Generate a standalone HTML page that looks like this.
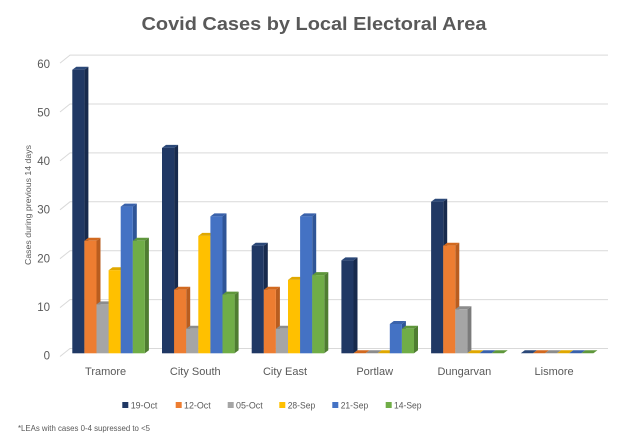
<!DOCTYPE html>
<html><head><meta charset="utf-8"><style>
html,body{margin:0;padding:0;background:#fff;}
svg{display:block;}
text{font-family:"Liberation Sans",sans-serif;fill:#595959;}
</style></head><body>
<svg width="632" height="439" viewBox="0 0 632 439" xmlns="http://www.w3.org/2000/svg">
<rect width="632" height="439" fill="#fff"/>
<text x="314" y="30" text-anchor="middle" font-size="18" font-weight="bold" textLength="345" lengthAdjust="spacingAndGlyphs">Covid Cases by Local Electoral Area</text>
<g stroke="#d9d9d9" stroke-width="1" fill="none">
<polyline points="60,356.5 70,348.5 608,348.5"/>
<polyline points="60,307.6 70,299.6 608,299.6"/>
<polyline points="60,258.7 70,250.7 608,250.7"/>
<polyline points="60,209.8 70,201.8 608,201.8"/>
<polyline points="60,160.9 70,152.9 608,152.9"/>
<polyline points="60,112 70,104 608,104"/>
<polyline points="60,63.1 70,55.1 608,55.1"/>
</g>
<g font-size="11.5" text-anchor="end">
<text x="50" y="359.5">0</text>
<text x="50" y="310.9">10</text>
<text x="50" y="262.3">20</text>
<text x="50" y="213.7">30</text>
<text x="50" y="165.1">40</text>
<text x="50" y="116.5">50</text>
<text x="50" y="67.9">60</text>
</g>
<text transform="translate(31,205) rotate(-90)" text-anchor="middle" font-size="8.5" textLength="120" lengthAdjust="spacingAndGlyphs">Cases during previous 14 days</text>
<g id="bars">
<!-- Tramore -->
<g transform="translate(72.3,69.7)"><polygon points="12.1,0 16.1,-3 16.1,280.6 12.1,283.6" fill="#172a4d"/><polygon points="0,0 4,-3 16.1,-3 12.1,0" fill="#2b4878"/><rect width="12.1" height="283.6" fill="#203864"/></g>
<g transform="translate(84.4,240.8)"><polygon points="12.1,0 16.1,-3 16.1,109.5 12.1,112.5" fill="#b95d1f"/><polygon points="0,0 4,-3 16.1,-3 12.1,0" fill="#d2691f"/><rect width="12.1" height="112.5" fill="#ed7d31"/></g>
<g transform="translate(96.5,304.4)"><polygon points="12.1,0 16.1,-3 16.1,45.9 12.1,48.9" fill="#7b7b7b"/><polygon points="0,0 4,-3 16.1,-3 12.1,0" fill="#8c8c8c"/><rect width="12.1" height="48.9" fill="#a5a5a5"/></g>
<g transform="translate(108.6,270.2)"><polygon points="12.1,0 16.1,-3 16.1,80.1 12.1,83.1" fill="#c49200"/><polygon points="0,0 4,-3 16.1,-3 12.1,0" fill="#e0a800"/><rect width="12.1" height="83.1" fill="#ffc000"/></g>
<g transform="translate(120.7,206.6)"><polygon points="12.1,0 16.1,-3 16.1,143.7 12.1,146.7" fill="#2f5597"/><polygon points="0,0 4,-3 16.1,-3 12.1,0" fill="#3a62ab"/><rect width="12.1" height="146.7" fill="#4472c4"/></g>
<g transform="translate(132.8,240.8)"><polygon points="12.1,0 16.1,-3 16.1,109.5 12.1,112.5" fill="#4f7d31"/><polygon points="0,0 4,-3 16.1,-3 12.1,0" fill="#5f973b"/><rect width="12.1" height="112.5" fill="#70ad47"/></g>
<!-- City South -->
<g transform="translate(162,147.9)"><polygon points="12.1,0 16.1,-3 16.1,202.4 12.1,205.4" fill="#172a4d"/><polygon points="0,0 4,-3 16.1,-3 12.1,0" fill="#2b4878"/><rect width="12.1" height="205.4" fill="#203864"/></g>
<g transform="translate(174.1,289.7)"><polygon points="12.1,0 16.1,-3 16.1,60.6 12.1,63.6" fill="#b95d1f"/><polygon points="0,0 4,-3 16.1,-3 12.1,0" fill="#d2691f"/><rect width="12.1" height="63.6" fill="#ed7d31"/></g>
<g transform="translate(186.2,328.8)"><polygon points="12.1,0 16.1,-3 16.1,21.5 12.1,24.5" fill="#7b7b7b"/><polygon points="0,0 4,-3 16.1,-3 12.1,0" fill="#8c8c8c"/><rect width="12.1" height="24.5" fill="#a5a5a5"/></g>
<g transform="translate(198.3,235.9)"><polygon points="12.1,0 16.1,-3 16.1,114.4 12.1,117.4" fill="#c49200"/><polygon points="0,0 4,-3 16.1,-3 12.1,0" fill="#e0a800"/><rect width="12.1" height="117.4" fill="#ffc000"/></g>
<g transform="translate(210.4,216.4)"><polygon points="12.1,0 16.1,-3 16.1,133.9 12.1,136.9" fill="#2f5597"/><polygon points="0,0 4,-3 16.1,-3 12.1,0" fill="#3a62ab"/><rect width="12.1" height="136.9" fill="#4472c4"/></g>
<g transform="translate(222.5,294.6)"><polygon points="12.1,0 16.1,-3 16.1,55.7 12.1,58.7" fill="#4f7d31"/><polygon points="0,0 4,-3 16.1,-3 12.1,0" fill="#5f973b"/><rect width="12.1" height="58.7" fill="#70ad47"/></g>
<!-- City East -->
<g transform="translate(251.7,245.7)"><polygon points="12.1,0 16.1,-3 16.1,104.6 12.1,107.6" fill="#172a4d"/><polygon points="0,0 4,-3 16.1,-3 12.1,0" fill="#2b4878"/><rect width="12.1" height="107.6" fill="#203864"/></g>
<g transform="translate(263.8,289.7)"><polygon points="12.1,0 16.1,-3 16.1,60.6 12.1,63.6" fill="#b95d1f"/><polygon points="0,0 4,-3 16.1,-3 12.1,0" fill="#d2691f"/><rect width="12.1" height="63.6" fill="#ed7d31"/></g>
<g transform="translate(275.9,328.8)"><polygon points="12.1,0 16.1,-3 16.1,21.5 12.1,24.5" fill="#7b7b7b"/><polygon points="0,0 4,-3 16.1,-3 12.1,0" fill="#8c8c8c"/><rect width="12.1" height="24.5" fill="#a5a5a5"/></g>
<g transform="translate(288,279.9)"><polygon points="12.1,0 16.1,-3 16.1,70.4 12.1,73.4" fill="#c49200"/><polygon points="0,0 4,-3 16.1,-3 12.1,0" fill="#e0a800"/><rect width="12.1" height="73.4" fill="#ffc000"/></g>
<g transform="translate(300.1,216.4)"><polygon points="12.1,0 16.1,-3 16.1,133.9 12.1,136.9" fill="#2f5597"/><polygon points="0,0 4,-3 16.1,-3 12.1,0" fill="#3a62ab"/><rect width="12.1" height="136.9" fill="#4472c4"/></g>
<g transform="translate(312.2,275.1)"><polygon points="12.1,0 16.1,-3 16.1,75.2 12.1,78.2" fill="#4f7d31"/><polygon points="0,0 4,-3 16.1,-3 12.1,0" fill="#5f973b"/><rect width="12.1" height="78.2" fill="#70ad47"/></g>
<!-- Portlaw -->
<g transform="translate(341.4,260.4)"><polygon points="12.1,0 16.1,-3 16.1,89.9 12.1,92.9" fill="#172a4d"/><polygon points="0,0 4,-3 16.1,-3 12.1,0" fill="#2b4878"/><rect width="12.1" height="92.9" fill="#203864"/></g>
<g transform="translate(353.5,353.3)"><polygon points="0,0 4,-3 16.1,-3 12.1,0" fill="#d2691f"/></g>
<g transform="translate(365.6,353.3)"><polygon points="0,0 4,-3 16.1,-3 12.1,0" fill="#8c8c8c"/></g>
<g transform="translate(377.7,353.3)"><polygon points="0,0 4,-3 16.1,-3 12.1,0" fill="#e0a800"/></g>
<g transform="translate(389.8,324)"><polygon points="12.1,0 16.1,-3 16.1,26.3 12.1,29.3" fill="#2f5597"/><polygon points="0,0 4,-3 16.1,-3 12.1,0" fill="#3a62ab"/><rect width="12.1" height="29.3" fill="#4472c4"/></g>
<g transform="translate(401.9,328.8)"><polygon points="12.1,0 16.1,-3 16.1,21.5 12.1,24.5" fill="#4f7d31"/><polygon points="0,0 4,-3 16.1,-3 12.1,0" fill="#5f973b"/><rect width="12.1" height="24.5" fill="#70ad47"/></g>
<!-- Dungarvan -->
<g transform="translate(431.1,201.7)"><polygon points="12.1,0 16.1,-3 16.1,148.6 12.1,151.6" fill="#172a4d"/><polygon points="0,0 4,-3 16.1,-3 12.1,0" fill="#2b4878"/><rect width="12.1" height="151.6" fill="#203864"/></g>
<g transform="translate(443.2,245.7)"><polygon points="12.1,0 16.1,-3 16.1,104.6 12.1,107.6" fill="#b95d1f"/><polygon points="0,0 4,-3 16.1,-3 12.1,0" fill="#d2691f"/><rect width="12.1" height="107.6" fill="#ed7d31"/></g>
<g transform="translate(455.3,309.3)"><polygon points="12.1,0 16.1,-3 16.1,41 12.1,44" fill="#7b7b7b"/><polygon points="0,0 4,-3 16.1,-3 12.1,0" fill="#8c8c8c"/><rect width="12.1" height="44" fill="#a5a5a5"/></g>
<g transform="translate(467.4,353.3)"><polygon points="0,0 4,-3 16.1,-3 12.1,0" fill="#e0a800"/></g>
<g transform="translate(479.5,353.3)"><polygon points="0,0 4,-3 16.1,-3 12.1,0" fill="#3a62ab"/></g>
<g transform="translate(491.6,353.3)"><polygon points="0,0 4,-3 16.1,-3 12.1,0" fill="#5f973b"/></g>
<!-- Lismore -->
<g transform="translate(520.8,353.3)"><polygon points="0,0 4,-3 16.1,-3 12.1,0" fill="#2b4878"/></g>
<g transform="translate(532.9,353.3)"><polygon points="0,0 4,-3 16.1,-3 12.1,0" fill="#d2691f"/></g>
<g transform="translate(545,353.3)"><polygon points="0,0 4,-3 16.1,-3 12.1,0" fill="#8c8c8c"/></g>
<g transform="translate(557.1,353.3)"><polygon points="0,0 4,-3 16.1,-3 12.1,0" fill="#e0a800"/></g>
<g transform="translate(569.2,353.3)"><polygon points="0,0 4,-3 16.1,-3 12.1,0" fill="#3a62ab"/></g>
<g transform="translate(581.3,353.3)"><polygon points="0,0 4,-3 16.1,-3 12.1,0" fill="#5f973b"/></g>
</g>
<g font-size="11" text-anchor="middle">
<text x="105.6" y="375">Tramore</text>
<text x="195.3" y="375">City South</text>
<text x="285" y="375">City East</text>
<text x="374.7" y="375">Portlaw</text>
<text x="464.4" y="375">Dungarvan</text>
<text x="554.1" y="375">Lismore</text>
</g>
<g font-size="9.5">
<rect x="122.3" y="402" width="6" height="6" fill="#203864"/><text x="130.7" y="408.5" textLength="26.7" lengthAdjust="spacingAndGlyphs">19-Oct</text>
<rect x="175.7" y="402" width="6" height="6" fill="#ed7d31"/><text x="184" y="408.5" textLength="26.7" lengthAdjust="spacingAndGlyphs">12-Oct</text>
<rect x="227.7" y="402" width="6" height="6" fill="#a5a5a5"/><text x="236" y="408.5" textLength="26.7" lengthAdjust="spacingAndGlyphs">05-Oct</text>
<rect x="279.3" y="402" width="6" height="6" fill="#ffc000"/><text x="287.7" y="408.5" textLength="27.5" lengthAdjust="spacingAndGlyphs">28-Sep</text>
<rect x="332.3" y="402" width="6" height="6" fill="#4472c4"/><text x="340.7" y="408.5" textLength="27.5" lengthAdjust="spacingAndGlyphs">21-Sep</text>
<rect x="385.7" y="402" width="6" height="6" fill="#70ad47"/><text x="394" y="408.5" textLength="27.5" lengthAdjust="spacingAndGlyphs">14-Sep</text>
</g>
<text x="18" y="431" font-size="8" fill="#404040" textLength="132" lengthAdjust="spacingAndGlyphs">*LEAs with cases 0-4 supressed to &lt;5</text>
</svg>
</body></html>
